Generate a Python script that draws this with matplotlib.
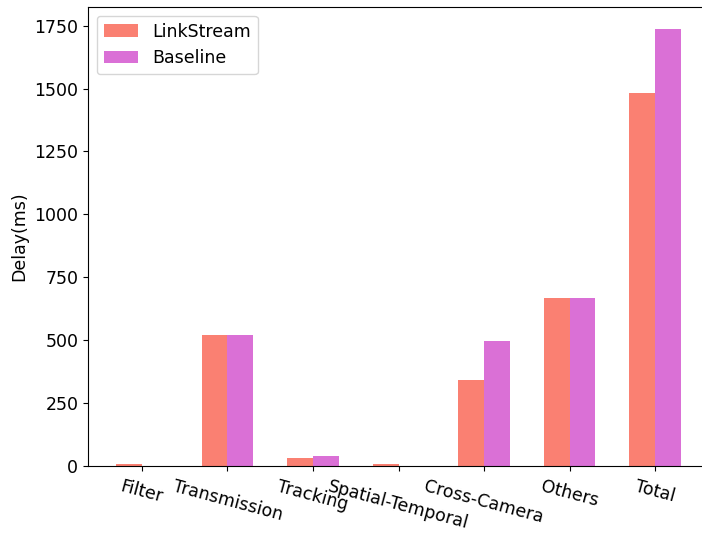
import numpy as np
import matplotlib
matplotlib.use('Agg')
import matplotlib.pyplot as plt

# Oneskorenie jednotlivých častí spracovania (ms)
kategorie = ['Filter', 'Transmission', 'Tracking', 'Spatial-Temporal',
             'Cross-Camera', 'Others', 'Total']
linkstream = [6, 520, 30, 6, 342, 667, 1482]
baseline = [0, 520, 40, 0, 497, 667, 1737]

x = np.arange(len(kategorie))
sirka = 0.3

fig = plt.figure(figsize=(7.02, 5.37), dpi=100)
ax = fig.add_axes([88 / 702, (537 - 466) / 537, 621 / 702, 459 / 537])

ax.bar(x - sirka / 2, linkstream, sirka, color='salmon', label='LinkStream')
ax.bar(x + sirka / 2, baseline, sirka, color='orchid', label='Baseline')

ax.set_xticks(x)
ax.set_xticklabels(kategorie, rotation=-15, fontsize=12.5)
ax.tick_params(axis='y', labelsize=12.5)
ax.tick_params(axis='x', pad=5)
ax.set_ylabel('Delay(ms)', fontsize=12.5)
ax.legend(loc='upper left', fontsize=12.5)

fig.savefig('out.png', dpi=100)
